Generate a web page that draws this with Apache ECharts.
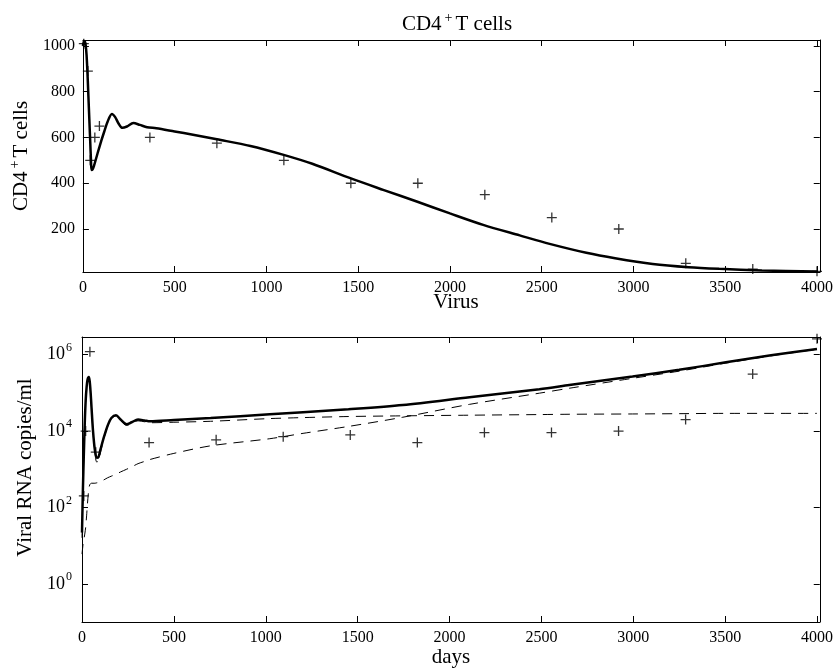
<!DOCTYPE html>
<html><head><meta charset="utf-8">
<script src="https://cdn.jsdelivr.net/npm/echarts@6/dist/echarts.min.js"></script>
<style>html,body{margin:0;padding:0;background:#fff}#c{width:836px;height:670px}</style>
</head><body><div id="c"></div><script>
// ---- CD4+ T cells panel ----
const cd4ModelDays = [0,5,10,15,20,25,30,35,40,44,47,52,60,80,100,116,135,158,175,195,215,240,275,310,350,400,500,600,730,913,1094,1250,1457,1640,1819,2000,2181,2380,2543,2743,2900,3105,3300,3467,3700,4000];
const cd4Model     = [1000,1018,1020,1005,960,880,780,680,580,500,458,460,475,531,585,625,670,703,690,660,642,648,663,655,645,640,626,612,592,563,524,485,422,370,320,268,218,172,135,96,72,47,33,26,19,14];
const cd4ObsDays = [5,27,40,65,90,365,730,1095,1460,1825,2190,2555,2920,3285,3650,4000];
const cd4Obs     = [1010,890,500,600,650,600,575,500,400,400,350,250,200,50,25,15];

// ---- Virus panel ----
const virusModelDays = [0,5,10,15,20,25,30,37,42,47,52,60,70,80,90,100,120,140,160,185,210,243,270,305,340,370,500,700,1022,1203,1450,1746,2109,2489,2652,2996,3250,3504,3750,4000];
const virusTotal   = [22,300,2500,1.6e4,6.3e4,1.4e5,2.2e5,2.6e5,2.0e5,1.0e5,4.0e4,1.0e4,3.2e3,2.0e3,2.1e3,3.2e3,7.1e3,1.4e4,2.2e4,2.6e4,2.0e4,1.5e4,1.7e4,2.0e4,1.9e4,1.8e4,1.95e4,2.2e4,2.75e4,3.1e4,3.7e4,4.8e4,7.7e4,1.25e5,1.6e5,2.68e5,4.0e5,6.3e5,9.6e5,1.41e6];
const virusRising  = [6,10,14,20,30,60,130,300,390,420,430,430,430,440,450,480,530,600,660,740,850,1000,1150,1400,1600,1800,2600,4100,6300,8700,1.32e4,2.3e4,5.0e4,9.8e4,1.32e5,2.4e5,3.7e5,6.0e5,9.3e5,1.38e6];
const virusFlat    = [16,290,2480,1.6e4,6.3e4,1.4e5,2.2e5,2.6e5,2.0e5,1.0e5,4.0e4,9.6e3,2.8e3,1.55e3,1.65e3,2.7e3,6.6e3,1.34e4,2.13e4,2.5e4,1.9e4,1.4e4,1.6e4,1.85e4,1.75e4,1.65e4,1.7e4,1.8e4,2.12e4,2.25e4,2.4e4,2.5e4,2.6e4,2.7e4,2.75e4,2.8e4,2.85e4,2.9e4,2.9e4,2.9e4];
const virusObsDays = [10,20,43,75,365,730,1095,1460,1825,2190,2555,2920,3285,3650,4000];
const virusObs     = [200,1.0e4,1.2e6,2.8e3,5.0e3,5.9e3,7.1e3,7.9e3,5.0e3,9.1e3,9.1e3,1.0e4,2.0e4,3.1e5,2.6e6];

const xTicks = {min: 0, max: 4015, interval: 500};
const cd4Range = {min: 12, max: 1026};
const virusRange = {min: 0.1, max: 2.9e6};

const FONT = '"Liberation Serif", "Times New Roman", serif';
const PLUS = 'path://M0,4.35H10V5.65H0Z M4.35,0H5.65V10H4.35Z';

const zip = (xs, ys) => xs.map((x, i) => [x, ys[i]]);

const lineAxis = {show: true, lineStyle: {color: '#000', width: 1}};
const tick = {show: true, inside: true, length: 6, lineStyle: {color: '#000', width: 1}};
const lbl = {color: '#000', fontFamily: FONT, fontSize: 16, margin: 8, formatter: v => String(v)};

function xAx(grid, pos, labels, extra) {
  return Object.assign({
    type: 'value', gridIndex: grid, position: pos,
    min: xTicks.min, max: xTicks.max, interval: xTicks.interval,
    axisLine: Object.assign({onZero: false}, lineAxis), axisTick: tick,
    axisLabel: Object.assign({}, lbl, {show: labels, showMaxLabel: false}),
    splitLine: {show: false}
  }, extra || {});
}

const supRich = {
  b: {fontFamily: FONT, fontSize: 18, color: '#000', verticalAlign: 'middle', lineHeight: 26},
  s: {fontFamily: FONT, fontSize: 12, color: '#000', verticalAlign: 'top', lineHeight: 26, padding: [0, 0, 0, 1]}
};
const nameRich = {
  b: {fontFamily: FONT, fontSize: 21, fontWeight: 'normal', color: '#000', verticalAlign: 'bottom', lineHeight: 24},
  s: {fontFamily: FONT, fontSize: 14, fontWeight: 'normal', color: '#000', verticalAlign: 'top', lineHeight: 24, padding: [0, 3, 0, 3]}
};

function cd4Y(pos, labels, extra) {
  return Object.assign({
    type: 'value', gridIndex: 0, position: pos, min: cd4Range.min, max: cd4Range.max,
    axisLine: Object.assign({onZero: false}, lineAxis), axisTick: tick,
    axisLabel: Object.assign({}, lbl, {show: labels, showMinLabel: false, showMaxLabel: false}),
    splitLine: {show: false}
  }, extra || {});
}
function virY(pos, labels, extra) {
  return Object.assign({
    type: 'log', logBase: 100, gridIndex: 1, position: pos, min: virusRange.min, max: virusRange.max,
    axisLine: Object.assign({onZero: false}, lineAxis), axisTick: tick,
    axisLabel: Object.assign({}, lbl, {show: labels, showMinLabel: false, showMaxLabel: false, margin: 10,
      formatter: v => '{b|10}{s|' + Math.round(Math.log10(v)) + '}', rich: supRich}),
    splitLine: {show: false}
  }, extra || {});
}

const chart = echarts.init(document.getElementById('c'), null, {renderer: 'canvas'});
chart.setOption({
  backgroundColor: '#fff',
  animation: false,
  title: [
    {text: '{b|CD4}{s|+}{b|T cells}', left: 452, top: 6, textAlign: 'center',
      textStyle: {fontWeight: 'normal', rich: nameRich}},
    {text: 'Virus', left: 451, top: 287, textAlign: 'center',
      textStyle: {fontFamily: FONT, fontSize: 21, fontWeight: 'normal', color: '#000'}}
  ],
  grid: [
    {left: 82, top: 40, width: 738, height: 232},
    {left: 82, top: 337, width: 738, height: 285}
  ],
  xAxis: [
    xAx(0, 'bottom', true),
    xAx(0, 'top', false),
    xAx(1, 'bottom', true, {name: 'days', nameLocation: 'middle', nameGap: 25,
      nameTextStyle: {fontFamily: FONT, fontSize: 21, color: '#000'}}),
    xAx(1, 'top', false)
  ],
  yAxis: [
    cd4Y('left', true, {name: '{b|CD4}{s|+}{b|T cells}', nameLocation: 'middle', nameGap: 44,
      nameTextStyle: {rich: nameRich}}),
    cd4Y('right', false),
    virY('left', true, {name: 'Viral RNA copies/ml', nameLocation: 'middle', nameGap: 43,
      nameTextStyle: {fontFamily: FONT, fontSize: 21, color: '#000', padding: [0, 0, 0, 24]}}),
    virY('right', false)
  ],
  series: [
    {type: 'line', name: 'CD4 model', xAxisIndex: 0, yAxisIndex: 0, data: zip(cd4ModelDays, cd4Model),
      showSymbol: false, smooth: 0.3, lineStyle: {color: '#000', width: 2.5}, clip: true},
    {type: 'scatter', name: 'CD4 data', xAxisIndex: 0, yAxisIndex: 0, data: zip(cd4ObsDays, cd4Obs),
      symbol: PLUS, symbolSize: 10, itemStyle: {color: '#000'}},
    {type: 'line', name: 'Virus rising', xAxisIndex: 2, yAxisIndex: 2, data: zip(virusModelDays, virusRising),
      showSymbol: false, smooth: 0.3, lineStyle: {color: '#000', width: 1, type: [10, 7]}, clip: true},
    {type: 'line', name: 'Virus flat', xAxisIndex: 2, yAxisIndex: 2, data: zip(virusModelDays, virusFlat),
      showSymbol: false, smooth: 0.3, lineStyle: {color: '#000', width: 1, type: [10, 7]}, clip: true},
    {type: 'line', name: 'Virus total', xAxisIndex: 2, yAxisIndex: 2, data: zip(virusModelDays, virusTotal),
      showSymbol: false, smooth: 0.3, lineStyle: {color: '#000', width: 2.5}, clip: true},
    {type: 'scatter', name: 'Virus data', xAxisIndex: 2, yAxisIndex: 2, data: zip(virusObsDays, virusObs),
      symbol: PLUS, symbolSize: 10, itemStyle: {color: '#000'}}
  ]
});
</script></body></html>
